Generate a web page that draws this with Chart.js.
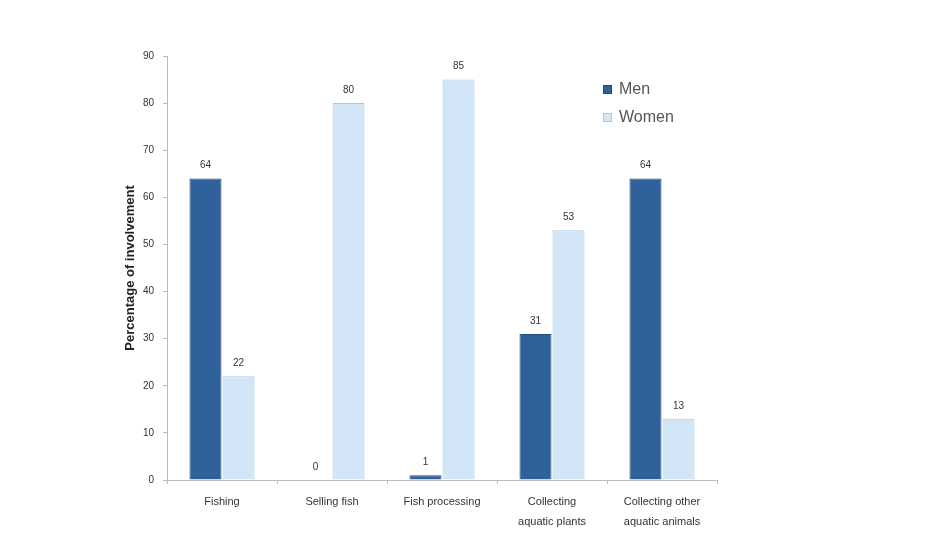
<!DOCTYPE html>
<html>
<head>
<meta charset="utf-8">
<script src="https://cdn.jsdelivr.net/npm/chart.js@4/dist/chart.umd.min.js"></script>
<style>
  html, body { margin: 0; padding: 0; background: #fff; }
  #wrap { width: 932px; height: 537px; }
</style>
</head>
<body>
<div id="wrap"><canvas id="chart" width="932" height="537"></canvas></div>
<script>
// Activity categories and involvement (%) per group
const categories = [
    'Fishing',
    'Selling fish',
    'Fish processing',
    ['Collecting', 'aquatic plants'],
    ['Collecting other', 'aquatic animals']
];
const menValues = [64, 0, 1, 31, 64];
const womenValues = [22, 80, 85, 53, 13];
const yTicks = [0, 10, 20, 30, 40, 50, 60, 70, 80, 90];

const FONT = '"Liberation Sans", Arial, sans-serif';
const MEN_COLOR = '#2f6099';
const MEN_BORDER = '#24497a';
const WOMEN_COLOR = '#d3e6f8';
const WOMEN_BORDER = '#a9c6e6';

// Draws the number above every bar
const valueLabels = {
    id: 'valueLabels',
    afterDatasetsDraw(chart) {
        const ctx = chart.ctx;
        ctx.save();
        ctx.font = '10px ' + FONT;
        ctx.fillStyle = '#333';
        ctx.textAlign = 'center';
        ctx.textBaseline = 'middle';
        chart.data.datasets.forEach((ds, i) => {
            chart.getDatasetMeta(i).data.forEach((bar, j) => {
                ctx.fillText(ds.data[j], bar.x, bar.y - 13);
            });
        });
        ctx.restore();
    }
};

// Vertical legend in the upper right of the plot
const sideLegend = {
    id: 'sideLegend',
    afterDraw(chart) {
        const ctx = chart.ctx;
        ctx.save();
        ctx.font = '16px ' + FONT;
        ctx.textBaseline = 'middle';
        chart.data.datasets.forEach((ds, i) => {
            const y = 90 + i * 28;
            ctx.fillStyle = ds.backgroundColor;
            ctx.fillRect(603, y - 5, 9, 9);
            ctx.strokeStyle = ds.borderColor;
            ctx.strokeRect(603.5, y - 4.5, 8, 8);
            ctx.fillStyle = '#555';
            ctx.fillText(ds.label, 619, y);
        });
        ctx.restore();
    }
};

new Chart(document.getElementById('chart'), {
    type: 'bar',
    data: {
        labels: categories,
        datasets: [{
            label: 'Men',
            data: menValues,
            backgroundColor: MEN_COLOR,
            borderColor: MEN_BORDER,
            borderWidth: 1
        }, {
            label: 'Women',
            data: womenValues,
            backgroundColor: WOMEN_COLOR,
            borderColor: WOMEN_BORDER,
            borderWidth: 1
        }]
    },
    options: {
        responsive: false,
        animation: false,
        categoryPercentage: 0.6,
        barPercentage: 0.97,
        layout: {
            padding: { top: 56, right: 215, bottom: 5, left: 121 }
        },
        plugins: {
            legend: { display: false },
            tooltip: { enabled: false }
        },
        scales: {
            x: {
                grid: {
                    drawOnChartArea: false,
                    drawTicks: true,
                    tickLength: 4,
                    color: '#bbb'
                },
                border: { color: '#bbb' },
                ticks: {
                    color: '#333',
                    font: { size: 11, family: FONT, lineHeight: 1.8 },
                    padding: 8,
                    maxRotation: 0,
                    autoSkip: false
                },
                afterFit(scale) { scale.height = 52; }
            },
            y: {
                min: 0,
                max: 90,
                afterBuildTicks(scale) {
                    scale.ticks = yTicks.map(v => ({ value: v }));
                },
                grid: {
                    drawOnChartArea: false,
                    drawTicks: true,
                    tickLength: 4,
                    color: '#bbb'
                },
                border: { color: '#bbb' },
                ticks: {
                    color: '#333',
                    font: { size: 10, family: FONT },
                    padding: 9
                },
                title: {
                    display: true,
                    text: 'Percentage of involvement',
                    color: '#222',
                    font: { size: 13, weight: 'bold', family: FONT },
                    padding: { top: 2, bottom: 0 }
                },
                afterFit(scale) { scale.width = 46; }
            }
        }
    },
    plugins: [valueLabels, sideLegend]
});
</script>
</body>
</html>
